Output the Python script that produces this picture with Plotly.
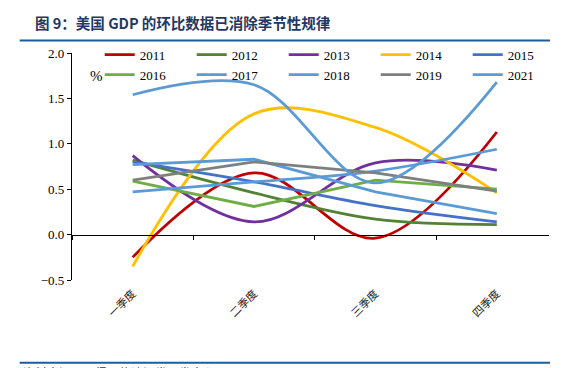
import plotly.graph_objects as go

quarters = ["一季度", "二季度", "三季度", "四季度"]
years = ["2011", "2012", "2013", "2014", "2015", "2016", "2017", "2018", "2019", "2021"]
y2011 = [-0.25, 0.68, -0.04, 1.13]
y2012 = [0.82, 0.46, 0.17, 0.11]
y2013 = [0.87, 0.14, 0.79, 0.71]
y2014 = [-0.35, 1.33, 1.18, 0.46]
y2015 = [0.80, 0.58, 0.32, 0.14]
y2016 = [0.59, 0.31, 0.60, 0.50]
y2017 = [0.47, 0.58, 0.70, 0.94]
y2018 = [0.77, 0.83, 0.47, 0.23]
y2019 = [0.60, 0.80, 0.68, 0.48]
y2021 = [1.54, 1.65, 0.57, 1.68]
series = [y2011, y2012, y2013, y2014, y2015, y2016, y2017, y2018, y2019, y2021]
colors = ["#C00000", "#538135", "#7030A0", "#FFC000", "#4472C4",
          "#70AD47", "#5B9BD5", "#5B9BD5", "#7F7F7F", "#5B9BD5"]
shapes_ = ["spline", "spline", "spline", "spline", "spline",
           "linear", "spline", "linear", "linear", "spline"]

# page body has an 8px default margin: lay out in page pixels minus that offset
OFF = 8
W, H = 572 - OFF, 368 - OFF
PL, PR, PT, PB = 72.3, 549.0, 53.3, 280.0   # plot box in page pixels
L, R, T, B = PL - OFF, W - (PR - OFF), PT - OFF, H - (PB - OFF)

fig = go.Figure()
for name, ys, c, sh in zip(years, series, colors, shapes_):
    fig.add_trace(go.Scatter(
        x=quarters, y=ys, name=name, mode="lines",
        line=dict(color=c, width=2.8, shape=sh, smoothing=1),
        hoverinfo="skip"))

# invisible trace to materialise the zero-crossing axis
fig.add_trace(go.Scatter(x=quarters, y=[None] * 4, xaxis="x2", showlegend=False,
                         hoverinfo="skip", mode="lines"))

ymin, ymax = -0.5, 2.0
zero_pos = (0 - ymin) / (ymax - ymin)
xr = [-0.5, 3.43]

def px_x(p):
    return (p - PL) / (PR - PL)

def px_y(p):
    return (PB - p) / (PB - PT)

fig.update_layout(
    width=W, height=H,
    margin=dict(l=L, r=R, t=T, b=B, autoexpand=False),
    paper_bgcolor="white", plot_bgcolor="white",
    font=dict(family="Liberation Serif", size=13, color="black"),
    xaxis=dict(type="category", range=xr, showline=False, showgrid=False,
               zeroline=False, ticks="", tickangle=-45, automargin=False,
               tickfont=dict(family="Noto Sans CJK SC", size=11, color="#222"),
               ticklabelstandoff=4),
    xaxis2=dict(type="category", range=xr, overlaying="x", anchor="free",
                position=zero_pos, showline=True, linecolor="black", linewidth=1.3,
                ticks="outside", ticklen=4, tickcolor="black", tickwidth=1.3,
                tickson="boundaries", showticklabels=False, showgrid=False,
                zeroline=False, automargin=False),
    yaxis=dict(range=[ymin, ymax], dtick=0.5, tickformat=".1f", showgrid=False,
               zeroline=False, showline=True, linecolor="black", linewidth=1.3,
               ticks="outside", ticklen=4, tickcolor="black", tickwidth=1.3,
               automargin=False,
               tickfont=dict(family="Liberation Serif", size=13, color="black")),
    legend=dict(orientation="h", x=px_x(100), y=px_y(40), xanchor="left",
                yanchor="top", bgcolor="rgba(0,0,0,0)",
                entrywidth=47, entrywidthmode="pixels", tracegroupgap=0,
                font=dict(family="Liberation Serif", size=13, color="black")),
    showlegend=True,
)

fig.add_annotation(text="%", xref="paper", yref="paper", x=px_x(88), y=px_y(66),
                   showarrow=False, font=dict(family="Liberation Serif", size=15,
                                              color="black"))
fig.add_annotation(text="<b>图 9：美国 GDP 的环比数据已消除季节性规律</b>",
                   xref="paper", yref="paper", x=px_x(33), y=px_y(23),
                   xanchor="left", yanchor="middle", showarrow=False,
                   font=dict(family="Noto Sans CJK SC", size=14.5, color="#1F3864"))
fig.add_annotation(text="资料来源：万得，信达证券研发中心",
                   xref="paper", yref="paper", x=px_x(21), y=px_y(362),
                   xanchor="left", yanchor="top", showarrow=False,
                   font=dict(family="Noto Sans CJK SC", size=12, color="#333"))

for yy in (40.7, 362.7):
    fig.add_shape(type="line", xref="paper", yref="paper",
                  x0=px_x(20), x1=px_x(550), y0=px_y(yy), y1=px_y(yy),
                  line=dict(color="#1F5C99", width=2))

fig.write_html("out.html")
